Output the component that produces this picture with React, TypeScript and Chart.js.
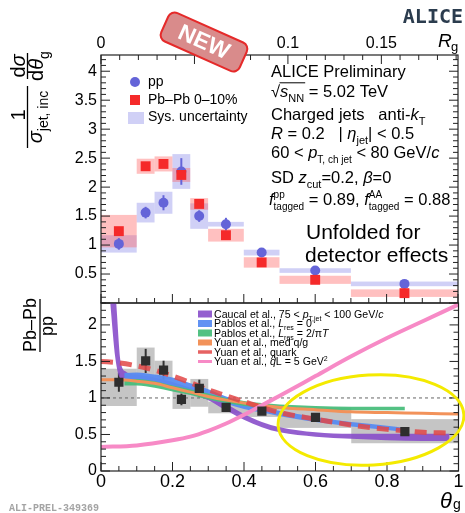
import React, { useEffect, useRef } from 'react';
import { Chart, registerables } from 'chart.js';

Chart.register(...registerables);

const W = 465;
const H = 513;
const FONT = "'Liberation Sans', Arial, sans-serif";

// ---------- measured bins (theta_g) ----------
const binLow = [0, 0.1, 0.15, 0.2, 0.25, 0.3, 0.4, 0.5, 0.7];
const binHigh = [0.1, 0.15, 0.2, 0.25, 0.3, 0.4, 0.5, 0.7, 1.0];
const binCenter = [0.05, 0.125, 0.175, 0.225, 0.275, 0.35, 0.45, 0.6, 0.85];

// upper panel: 1/sigma dsigma/dtheta
const ppValue = [1.02, 1.56, 1.73, 2.27, 1.5, 1.36, 0.87, 0.56, 0.33];
const ppStat = [0.1, 0.1, 0.13, 0.23, 0.1, 0.11, 0.04, 0.03, 0.02];
const ppSys = [0.15, 0.17, 0.19, 0.3, 0.22, 0.04, 0.05, 0.04, 0.04];
const pbValue = [1.24, 2.36, 2.4, 2.21, 1.71, 1.17, 0.7, 0.4, 0.17];
const pbSys = [0.28, 0.13, 0.13, 0.12, 0.1, 0.11, 0.09, 0.07, 0.065];

// lower panel: Pb-Pb / pp
const ratioValue = [1.215, 1.507, 1.38, 0.98, 1.13, 0.87, 0.82, 0.735, 0.54];
const ratioStat = [0.13, 0.165, 0.13, 0.08, 0.12, 0.04, 0.03, 0.03, 0.03];
const ratioSysLow = [0.89, 1.22, 1.25, 0.85, 0.88, 0.79, 0.74, 0.59, 0.38];
const ratioSysHigh = [1.4, 1.69, 1.51, 1.11, 1.26, 0.95, 0.89, 0.87, 0.71];

// theory: Caucal et al. (band)
const caucalTheta = [0.025, 0.04, 0.055, 0.07, 0.1, 0.15, 0.2, 0.25, 0.3, 0.35, 0.4, 0.45, 0.5, 0.6, 0.7, 0.8, 0.9, 0.975];
const caucalLow = [2.35, 1.55, 1.27, 1.27, 1.24, 1.2, 1.14, 1.06, 0.97, 0.83, 0.7, 0.6, 0.53, 0.47, 0.44, 0.42, 0.41, 0.41];
const caucalHigh = [2.9, 2.45, 1.5, 1.36, 1.32, 1.28, 1.22, 1.14, 1.05, 0.92, 0.78, 0.67, 0.6, 0.53, 0.51, 0.51, 0.51, 0.51];
// Pablos et al., L_res = 0 (band)
const pablos0Theta = [0.065, 0.1, 0.15, 0.2, 0.25, 0.3, 0.35, 0.4, 0.45, 0.5, 0.55, 0.6, 0.7, 0.8, 0.85];
const pablos0Low = [1.24, 1.24, 1.2, 1.15, 1.08, 1.0, 0.92, 0.85, 0.8, 0.75, 0.71, 0.67, 0.61, 0.56, 0.53];
const pablos0High = [1.34, 1.35, 1.32, 1.28, 1.2, 1.12, 1.02, 0.95, 0.88, 0.82, 0.78, 0.74, 0.67, 0.62, 0.59];
// Pablos et al., L_res = 2/piT (band)
const pablos2Theta = [0.065, 0.1, 0.15, 0.2, 0.25, 0.3, 0.35, 0.4, 0.45, 0.5, 0.6, 0.7, 0.85];
const pablos2Low = [1.17, 1.17, 1.14, 1.09, 1.04, 0.98, 0.93, 0.89, 0.87, 0.85, 0.84, 0.83, 0.83];
const pablos2High = [1.26, 1.26, 1.23, 1.17, 1.12, 1.06, 1.0, 0.96, 0.93, 0.91, 0.89, 0.88, 0.88];
// Yuan et al., med q/g
const yuanMedTheta = [0, 0.05, 0.1, 0.15, 0.2, 0.25, 0.3, 0.35, 0.4, 0.5, 0.6, 0.7, 0.8, 0.9, 1.0];
const yuanMedValue = [1.25, 1.25, 1.23, 1.2, 1.14, 1.08, 1.02, 0.97, 0.93, 0.87, 0.84, 0.81, 0.8, 0.79, 0.78];
// Yuan et al., quark
const yuanQuarkTheta = [0, 0.05, 0.1, 0.15, 0.2, 0.25, 0.3, 0.35, 0.4, 0.45, 0.5, 0.6, 0.7, 0.8, 0.85, 0.9, 0.975];
const yuanQuarkValue = [1.5, 1.48, 1.44, 1.38, 1.3, 1.21, 1.11, 1.03, 0.95, 0.87, 0.8, 0.71, 0.63, 0.57, 0.55, 0.53, 0.52];
// Yuan et al., qL = 5 GeV^2
const yuanQLTheta = [0, 0.1, 0.2, 0.25, 0.3, 0.35, 0.4, 0.45, 0.5, 0.6, 0.7, 0.8, 0.9, 1.0];
const yuanQLValue = [0.33, 0.35, 0.42, 0.47, 0.55, 0.65, 0.77, 0.9, 1.03, 1.3, 1.57, 1.82, 2.05, 2.28];

const unityTheta = [0, 1];
const unityValue = [1, 1];

// tick labels
const thetaTicks = [0, 0.2, 0.4, 0.6, 0.8, 1];
const rgTicks = [0, 0.05, 0.1, 0.15];
const upperYTicks = [0.5, 1, 1.5, 2, 2.5, 3, 3.5, 4];
const lowerYTicks = [0, 0.5, 1, 1.5, 2];

// colours
const ppColor = '#6464d8';
const pbColor = '#f52a2a';
const ppSysColor = 'rgba(120,120,228,0.35)';
const pbSysColor = 'rgba(255,90,90,0.38)';
const ratioColor = '#2e2e2e';
const ratioSysColor = 'rgba(140,140,140,0.5)';
const caucalColor = 'rgba(136,78,202,0.9)';
const pablos0Color = 'rgba(88,140,242,0.95)';
const pablos2Color = 'rgba(74,190,124,0.95)';
const yuanMedColor = '#f2925a';
const yuanQuarkColor = 'rgba(226,70,70,0.85)';
const yuanQLColor = '#f78ac6';

const pts = (xs: number[], ys: number[]) => xs.map((x, i) => ({ x, y: ys[i] }));
const fmt = (v: number) => String(+Number(v).toFixed(3));

type Seg = { t: string; i?: boolean; b?: boolean; s?: 'sub' | 'sup'; u?: string };

function segFont(sg: Seg, size: number, scale: number) {
  const sz = sg.s || sg.u ? Math.round(size * scale) : size;
  return `${sg.i ? 'italic ' : ''}${sg.b ? 'bold ' : ''}${sz}px ${FONT}`;
}

function rich(ctx: CanvasRenderingContext2D, x: number, y: number, segs: Seg[], size: number, align = 'left', scale = 0.68) {
  const widths = segs.map((sg) => {
    ctx.font = segFont(sg, size, scale);
    const a = ctx.measureText(sg.t).width;
    const b = sg.u ? ctx.measureText(sg.u).width : 0;
    return Math.max(a, b);
  });
  const total = widths.reduce((a, b) => a + b, 0);
  let cx = align === 'center' ? x - total / 2 : x;
  const pos: number[] = [];
  ctx.textAlign = 'left';
  ctx.textBaseline = 'alphabetic';
  segs.forEach((sg, k) => {
    ctx.font = segFont(sg, size, scale);
    pos.push(cx);
    if (sg.s === 'sub') ctx.fillText(sg.t, cx, y + size * 0.3);
    else if (sg.s === 'sup') ctx.fillText(sg.t, cx, y - size * 0.42);
    else ctx.fillText(sg.t, cx, y);
    if (sg.u) ctx.fillText(sg.u, cx, y + size * 0.32);
    cx += widths[k];
  });
  pos.push(cx);
  return pos;
}

function rotated(ctx: CanvasRenderingContext2D, px: number, py: number, fn: () => void) {
  ctx.save();
  ctx.translate(px, py);
  ctx.rotate(-Math.PI / 2);
  fn();
  ctx.restore();
}

function line(ctx: CanvasRenderingContext2D, x1: number, y1: number, x2: number, y2: number) {
  ctx.beginPath();
  ctx.moveTo(x1, y1);
  ctx.lineTo(x2, y2);
  ctx.stroke();
}

function tickMarks(scale: any, min: number, max: number, minor: number, major: number, place: (p: number, len: number) => void) {
  const n = Math.round((max - min) / minor) + 1;
  for (let i = 0; i < n; i++) {
    const v = min + i * minor;
    if (v > max + 1e-9) break;
    const r = v / major;
    const isMajor = Math.abs(r - Math.round(r)) < 1e-6;
    place(scale.getPixelForValue(v), isMajor ? 9 : 5);
  }
}

function frameAndTicks(chart: any, yMax: number, yMinor: number, yMajor: number, withBottom: boolean) {
  const { ctx, chartArea: a, scales } = chart;
  ctx.save();
  ctx.strokeStyle = '#222';
  ctx.lineWidth = 1.2;
  ctx.strokeRect(a.left, a.top, a.right - a.left, a.bottom - a.top);
  ctx.lineWidth = 1;
  tickMarks(scales.y, 0, yMax, yMinor, yMajor, (p, l) => {
    line(ctx, a.left, p, a.left + l, p);
    line(ctx, a.right, p, a.right - l, p);
  });
  if (withBottom) {
    tickMarks(scales.x, 0, 1, 0.05, 0.2, (p, l) => line(ctx, p, a.bottom, p, a.bottom - l));
  }
  ctx.restore();
}

function drawBadge(ctx: CanvasRenderingContext2D) {
  ctx.save();
  ctx.translate(204, 42);
  ctx.rotate((24 * Math.PI) / 180);
  const w = 86, h = 31, r = 7;
  const x = -w / 2, y = -h / 2;
  ctx.beginPath();
  ctx.moveTo(x + r, y);
  ctx.arcTo(x + w, y, x + w, y + h, r);
  ctx.arcTo(x + w, y + h, x, y + h, r);
  ctx.arcTo(x, y + h, x, y, r);
  ctx.arcTo(x, y, x + w, y, r);
  ctx.closePath();
  ctx.fillStyle = '#d98b8b';
  ctx.fill();
  ctx.strokeStyle = '#e52a2a';
  ctx.lineWidth = 2;
  ctx.stroke();
  ctx.fillStyle = '#ffffff';
  ctx.font = `bold 23px ${FONT}`;
  ctx.textAlign = 'center';
  ctx.textBaseline = 'middle';
  ctx.fillText('NEW', 0, 1);
  ctx.restore();
}

const upperPlugin = {
  id: 'upperDecor',
  beforeDraw(chart: any) {
    const { ctx, scales: { x, y } } = chart;
    ctx.save();
    binLow.forEach((lo, i) => {
      const x1 = x.getPixelForValue(lo), x2 = x.getPixelForValue(binHigh[i]);
      ctx.fillStyle = ppSysColor;
      const a1 = y.getPixelForValue(ppValue[i] + ppSys[i]), a2 = y.getPixelForValue(ppValue[i] - ppSys[i]);
      ctx.fillRect(x1, a1, x2 - x1, a2 - a1);
    });
    binLow.forEach((lo, i) => {
      const x1 = x.getPixelForValue(lo), x2 = x.getPixelForValue(binHigh[i]);
      ctx.fillStyle = pbSysColor;
      const b1 = y.getPixelForValue(pbValue[i] + pbSys[i]), b2 = y.getPixelForValue(pbValue[i] - pbSys[i]);
      ctx.fillRect(x1, b1, x2 - x1, b2 - b1);
    });
    ctx.restore();
  },
  beforeDatasetsDraw(chart: any) {
    const { ctx, scales: { x, y } } = chart;
    ctx.save();
    ctx.strokeStyle = ppColor;
    ctx.lineWidth = 2;
    binCenter.forEach((c, i) => {
      const px = x.getPixelForValue(c);
      line(ctx, px, y.getPixelForValue(ppValue[i] - ppStat[i]), px, y.getPixelForValue(ppValue[i] + ppStat[i]));
    });
    ctx.restore();
  },
  afterDraw(chart: any) {
    const { ctx, chartArea: a, scales } = chart;
    frameAndTicks(chart, 4.28, 0.1, 0.5, true);
    ctx.save();
    ctx.strokeStyle = '#222';
    ctx.lineWidth = 1;
    tickMarks(scales.x2, 0, 0.191, 0.01, 0.05, (p, l) => line(ctx, p, a.top, p, a.top + l));

    ctx.fillStyle = '#000';
    // axis titles
    ctx.font = `italic 19px ${FONT}`;
    ctx.textAlign = 'left';
    ctx.textBaseline = 'alphabetic';
    ctx.fillText('R', 438, 47);
    ctx.font = `13px ${FONT}`;
    ctx.fillText('g', 451, 51);

    // y title: 1/sigma_jet,inc  dsigma/dtheta_g
    ctx.strokeStyle = '#000';
    ctx.lineWidth = 1.3;
    rotated(ctx, 25, 115, () => {
      ctx.font = `20px ${FONT}`;
      ctx.textAlign = 'center';
      ctx.fillText('1', 0, 0);
    });
    line(ctx, 27.5, 86, 27.5, 148);
    rotated(ctx, 42, 117, () => {
      rich(ctx, 0, 0, [{ t: 'σ', i: true }, { t: 'jet, inc', s: 'sub' }], 20, 'center');
    });
    rotated(ctx, 25, 66, () => {
      rich(ctx, 0, 0, [{ t: 'd' }, { t: 'σ', i: true }], 20, 'center');
    });
    line(ctx, 27.5, 53, 27.5, 79);
    rotated(ctx, 43, 66, () => {
      rich(ctx, 0, 0, [{ t: 'd' }, { t: 'θ', i: true }, { t: 'g', s: 'sub' }], 20, 'center');
    });

    // legend
    ctx.fillStyle = ppColor;
    ctx.beginPath();
    ctx.arc(135, 82, 5, 0, Math.PI * 2);
    ctx.fill();
    ctx.fillStyle = pbColor;
    ctx.fillRect(130, 95, 10, 10);
    ctx.fillStyle = ppSysColor;
    ctx.fillRect(128, 112, 16, 12);
    ctx.fillStyle = '#000';
    ctx.font = `14px ${FONT}`;
    ctx.textAlign = 'left';
    ctx.fillText('pp', 148, 86);
    ctx.fillText('Pb–Pb 0–10%', 148, 104);
    ctx.fillText('Sys. uncertainty', 148, 121);

    // text block
    const fs = 16.5;
    ctx.font = `${fs}px ${FONT}`;
    ctx.fillText('ALICE Preliminary', 271, 77);
    ctx.font = `${fs}px ${FONT}`;
    const sq = '√';
    ctx.fillText(sq, 271, 97);
    const sqW = ctx.measureText(sq).width;
    const p2 = rich(ctx, 271 + sqW, 97, [{ t: 's', i: true }, { t: 'NN', s: 'sub' }, { t: ' = 5.02 TeV' }], fs);
    ctx.lineWidth = 1;
    line(ctx, 271 + sqW - 0.5, 97 - fs * 0.86, p2[2] + 1, 97 - fs * 0.86);
    rich(ctx, 271, 120, [{ t: 'Charged jets   anti-' }, { t: 'k', i: true }, { t: 'T', s: 'sub' }], fs);
    rich(ctx, 271, 139, [{ t: 'R', i: true }, { t: ' = 0.2   | ' }, { t: 'η', i: true }, { t: 'jet', s: 'sub' }, { t: '| < 0.5' }], fs);
    rich(ctx, 271, 158, [{ t: '60 < ' }, { t: 'p', i: true }, { t: 'T, ch jet', s: 'sub' }, { t: ' < 80 GeV/' }, { t: 'c', i: true }], fs, 'left', 0.62);
    rich(ctx, 271, 183, [{ t: 'SD ' }, { t: 'z', i: true }, { t: 'cut', s: 'sub' }, { t: '=0.2, ' }, { t: 'β', i: true }, { t: '=0' }], fs);
    rich(ctx, 269, 205, [
      { t: 'f', i: true }, { t: 'pp', s: 'sup', u: 'tagged' }, { t: ' = 0.89, ' },
      { t: 'f', i: true }, { t: 'AA', s: 'sup', u: 'tagged' }, { t: ' = 0.88' },
    ], fs, 'left', 0.58);

    ctx.font = `21px ${FONT}`;
    ctx.fillText('Unfolded for', 306, 239);
    ctx.fillText('detector effects', 305, 262);

    // decorations
    drawBadge(ctx);
    ctx.fillStyle = '#2b3c4e';
    ctx.font = `bold 20px 'DejaVu Sans Mono', monospace`;
    ctx.textAlign = 'right';
    ctx.fillText('ALICE', 463, 23);
    ctx.restore();
  },
};

const lowerPlugin = {
  id: 'lowerDecor',
  beforeDraw(chart: any) {
    const { ctx, scales: { x, y } } = chart;
    ctx.save();
    ctx.fillStyle = ratioSysColor;
    binLow.forEach((lo, i) => {
      const x1 = x.getPixelForValue(lo), x2 = x.getPixelForValue(binHigh[i]);
      const a1 = y.getPixelForValue(ratioSysHigh[i]), a2 = y.getPixelForValue(ratioSysLow[i]);
      ctx.fillRect(x1, a1, x2 - x1, a2 - a1);
    });
    ctx.restore();
  },
  beforeDatasetsDraw(chart: any) {
    const { ctx, scales: { x, y } } = chart;
    ctx.save();
    ctx.strokeStyle = '#333';
    ctx.lineWidth = 2;
    binCenter.forEach((c, i) => {
      const px = x.getPixelForValue(c);
      line(ctx, px, y.getPixelForValue(ratioValue[i] - ratioStat[i]), px, y.getPixelForValue(ratioValue[i] + ratioStat[i]));
    });
    ctx.restore();
  },
  afterDraw(chart: any) {
    const { ctx } = chart;
    frameAndTicks(chart, 2.3, 0.1, 0.5, true);
    ctx.save();
    // legend
    const rows = [314, 323.5, 333, 342.5, 352, 361.5];
    const boxes: [string, number][] = [
      [caucalColor, 7], [pablos0Color, 7], [pablos2Color, 7], [yuanMedColor, 6], [yuanQuarkColor, 3.5], [yuanQLColor, 3],
    ];
    boxes.forEach(([c, h], k) => {
      ctx.fillStyle = c;
      ctx.fillRect(198, rows[k] - h / 2, 14, h);
    });
    ctx.fillStyle = '#000';
    const ls = 10.6;
    rich(ctx, 214, rows[0] + 3.7, [{ t: 'Caucal et al., 75 < ' }, { t: 'p', i: true }, { t: 'T,jet', s: 'sub' }, { t: ' < 100 GeV/' }, { t: 'c', i: true }], ls);
    rich(ctx, 214, rows[1] + 3.7, [{ t: 'Pablos et al., ' }, { t: 'L', i: true }, { t: 'res', s: 'sub' }, { t: ' = 0' }], ls);
    rich(ctx, 214, rows[2] + 3.7, [{ t: 'Pablos et al., ' }, { t: 'L', i: true }, { t: 'res', s: 'sub' }, { t: ' = 2/π' }, { t: 'T', i: true }], ls);
    rich(ctx, 214, rows[3] + 3.7, [{ t: 'Yuan et al., med q/g' }], ls);
    rich(ctx, 214, rows[4] + 3.7, [{ t: 'Yuan et al., quark' }], ls);
    const qp = rich(ctx, 214, rows[5] + 3.7, [{ t: 'Yuan et al., ' }, { t: 'q', i: true }, { t: 'L = 5 GeV' }, { t: '2', s: 'sup' }], ls);
    ctx.font = `${ls}px ${FONT}`;
    ctx.textAlign = 'center';
    ctx.fillText('^', (qp[1] + qp[2]) / 2 + 0.5, rows[5] + 1.5);

    // y title Pb-Pb / pp
    ctx.fillStyle = '#000';
    ctx.strokeStyle = '#000';
    ctx.lineWidth = 1.3;
    rotated(ctx, 35.5, 325, () => {
      ctx.font = `18px ${FONT}`;
      ctx.textAlign = 'center';
      ctx.fillText('Pb–Pb', 0, 0);
    });
    line(ctx, 40, 299, 40, 352);
    rotated(ctx, 52.5, 326, () => {
      ctx.font = `18px ${FONT}`;
      ctx.textAlign = 'center';
      ctx.fillText('pp', 0, 0);
    });

    // x title
    ctx.textAlign = 'left';
    ctx.textBaseline = 'alphabetic';
    ctx.font = `italic 22px ${FONT}`;
    ctx.fillText('θ', 440, 508);
    ctx.font = `14px ${FONT}`;
    ctx.fillText('g', 453, 509);

    // yellow ellipse
    ctx.strokeStyle = '#f4ea00';
    ctx.lineWidth = 3;
    ctx.beginPath();
    ctx.ellipse(371, 420, 93, 45, -0.06, 0, Math.PI * 2);
    ctx.stroke();

    // figure id
    ctx.fillStyle = '#a4a4a4';
    ctx.font = `bold 10px 'Liberation Mono', monospace`;
    ctx.fillText('ALI-PREL-349369', 9, 511);
    ctx.restore();
  },
};

const tickFont = { family: FONT, size: 16 };

function upperConfig(): any {
  return {
    type: 'line',
    data: {
      datasets: [
        {
          label: 'Pb-Pb 0-10%', data: pts(binCenter, pbValue), showLine: false,
          pointStyle: 'rect', pointRadius: 7, backgroundColor: pbColor, borderWidth: 0, pointBorderWidth: 0,
        },
        {
          label: 'pp', data: pts(binCenter, ppValue), showLine: false,
          pointStyle: 'circle', pointRadius: 5, backgroundColor: ppColor, borderWidth: 0, pointBorderWidth: 0,
        },
      ],
    },
    options: {
      responsive: false,
      animation: false,
      devicePixelRatio: 1,
      events: [],
      layout: { padding: { left: 0, right: 6, top: 0, bottom: 210 } },
      plugins: { legend: { display: false }, tooltip: { enabled: false } },
      scales: {
        x: { type: 'linear', min: 0, max: 1, display: false },
        x2: {
          type: 'linear', position: 'top', min: 0, max: 0.191,
          grid: { display: false, drawTicks: false }, border: { display: false },
          afterBuildTicks: (s: any) => { s.ticks = rgTicks.map((v) => ({ value: v })); },
          afterFit: (s: any) => { s.height = 55; },
          ticks: { font: tickFont, color: '#000', padding: 2, maxRotation: 0, autoSkip: false, callback: (v: number) => fmt(v) },
        },
        y: {
          type: 'linear', min: 0, max: 4.28,
          grid: { display: false, drawTicks: false }, border: { display: false },
          afterBuildTicks: (s: any) => { s.ticks = upperYTicks.map((v) => ({ value: v })); },
          afterFit: (s: any) => { s.width = 101; },
          ticks: { font: tickFont, color: '#000', padding: 4, autoSkip: false, callback: (v: number) => fmt(v) },
        },
      },
    },
    plugins: [upperPlugin],
  };
}

function band(xs: number[], lo: number[], hi: number[], color: string, label: string): any[] {
  return [
    {
      label: label + ' low', data: pts(xs, lo), borderColor: 'transparent', borderWidth: 0,
      pointRadius: 0, fill: false, cubicInterpolationMode: 'monotone',
    },
    {
      label, data: pts(xs, hi), borderColor: 'transparent', borderWidth: 0,
      pointRadius: 0, fill: '-1', backgroundColor: color, cubicInterpolationMode: 'monotone',
    },
  ];
}

function lowerConfig(): any {
  return {
    type: 'line',
    data: {
      datasets: [
        {
          label: 'Pb-Pb/pp', data: pts(binCenter, ratioValue), showLine: false,
          pointStyle: 'rect', pointRadius: 6.5, backgroundColor: ratioColor, borderWidth: 0, pointBorderWidth: 0,
        },
        {
          label: 'Yuan qL', data: pts(yuanQLTheta, yuanQLValue), borderColor: yuanQLColor, borderWidth: 4,
          pointRadius: 0, fill: false, cubicInterpolationMode: 'monotone',
        },
        {
          label: 'Yuan quark', data: pts(yuanQuarkTheta, yuanQuarkValue), borderColor: yuanQuarkColor, borderWidth: 5,
          borderDash: [12, 7], pointRadius: 0, fill: false, cubicInterpolationMode: 'monotone',
        },
        {
          label: 'Yuan med', data: pts(yuanMedTheta, yuanMedValue), borderColor: yuanMedColor, borderWidth: 3,
          pointRadius: 0, fill: false, cubicInterpolationMode: 'monotone',
        },
        ...band(pablos2Theta, pablos2Low, pablos2High, pablos2Color, 'Pablos 2/piT'),
        ...band(pablos0Theta, pablos0Low, pablos0High, pablos0Color, 'Pablos 0'),
        ...band(caucalTheta, caucalLow, caucalHigh, caucalColor, 'Caucal'),
        {
          label: 'unity', data: pts(unityTheta, unityValue), borderColor: '#666', borderWidth: 1,
          borderDash: [3, 3], pointRadius: 0, fill: false,
        },
      ],
    },
    options: {
      responsive: false,
      animation: false,
      devicePixelRatio: 1,
      events: [],
      layout: { padding: { left: 0, right: 6, top: 303, bottom: 0 } },
      plugins: { legend: { display: false }, tooltip: { enabled: false } },
      scales: {
        x: {
          type: 'linear', min: 0, max: 1,
          grid: { display: false, drawTicks: false }, border: { display: false },
          afterBuildTicks: (s: any) => { s.ticks = thetaTicks.map((v) => ({ value: v })); },
          afterFit: (s: any) => { s.height = 42; },
          ticks: { font: { family: FONT, size: 18 }, color: '#000', padding: 0, maxRotation: 0, autoSkip: false, callback: (v: number) => fmt(v) },
        },
        y: {
          type: 'linear', min: 0, max: 2.3,
          grid: { display: false, drawTicks: false }, border: { display: false },
          afterBuildTicks: (s: any) => { s.ticks = lowerYTicks.map((v) => ({ value: v })); },
          afterFit: (s: any) => { s.width = 101; },
          ticks: { font: tickFont, color: '#000', padding: 4, autoSkip: false, callback: (v: number) => fmt(v) },
        },
      },
    },
    plugins: [lowerPlugin],
  };
}

export default function App() {
  const upRef = useRef<HTMLCanvasElement>(null);
  const loRef = useRef<HTMLCanvasElement>(null);
  useEffect(() => {
    const c1 = new Chart(upRef.current as HTMLCanvasElement, upperConfig());
    const c2 = new Chart(loRef.current as HTMLCanvasElement, lowerConfig());
    return () => {
      c1.destroy();
      c2.destroy();
    };
  }, []);
  const st: React.CSSProperties = { position: 'absolute', left: 0, top: 0, width: W, height: H };
  return (
    <div style={{ position: 'fixed', left: 0, top: 0, width: W, height: H, background: '#fff', overflow: 'hidden' }}>
      <canvas ref={upRef} width={W} height={H} style={st} />
      <canvas ref={loRef} width={W} height={H} style={st} />
    </div>
  );
}
